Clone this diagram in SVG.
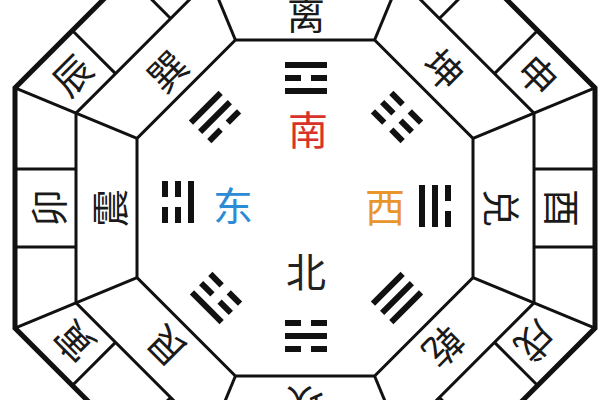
<svg xmlns="http://www.w3.org/2000/svg" xmlns:xlink="http://www.w3.org/1999/xlink" width="600" height="400" viewBox="0 0 600 400">
<style>
.ln{fill:none;stroke:#111;stroke-width:3;stroke-linejoin:miter}
.outer{fill:none;stroke:#111;stroke-width:5;stroke-linejoin:miter}
.ch{font-family:"Noto Sans CJK SC","Noto Sans CJK JP",sans-serif;font-size:38px;fill:#1a1a1a;text-anchor:middle;dominant-baseline:central}
.dir{font-family:"Noto Sans CJK SC","Noto Sans CJK JP",sans-serif;font-size:40px;text-anchor:middle;dominant-baseline:central}
.bar{fill:#111}
</style>
<defs>
<rect id="yang" class="bar" x="-21" y="-3" width="42" height="6"/>
<g id="yin" class="bar"><rect x="-21" y="-3" width="16" height="6"/><rect x="5" y="-3" width="16" height="6"/></g>
</defs>
<rect width="600" height="400" fill="#fff"/>
<g id="rings">
<polygon class="outer" points="184.88,-82 425.12,-82 595,87.88 595,328.12 425.12,498 184.88,498 15,328.12 15,87.88"/>
<polygon class="ln" points="210.15,-21 399.85,-21 534,113.15 534,302.85 399.85,437 210.15,437 76,302.85 76,113.15"/>
<polygon class="ln" points="235.42,40 374.58,40 473,138.42 473,277.58 374.58,376 235.42,376 137,277.58 137,138.42"/>
</g>
<g id="connectors">
<line class="ln" x1="235.42" y1="40" x2="184.88" y2="-82"/>
<line class="ln" x1="374.58" y1="40" x2="425.12" y2="-82"/>
<line class="ln" x1="473" y1="138.42" x2="595" y2="87.88"/>
<line class="ln" x1="473" y1="277.58" x2="595" y2="328.12"/>
<line class="ln" x1="374.58" y1="376" x2="425.12" y2="498"/>
<line class="ln" x1="235.42" y1="376" x2="184.88" y2="498"/>
<line class="ln" x1="137" y1="277.58" x2="15" y2="328.12"/>
<line class="ln" x1="137" y1="138.42" x2="15" y2="87.88"/>
<line class="ln" x1="534" y1="169" x2="595" y2="169"/>
<line class="ln" x1="534" y1="247" x2="595" y2="247"/>
<line class="ln" x1="15" y1="169" x2="76" y2="169"/>
<line class="ln" x1="15" y1="247" x2="76" y2="247"/>
<line class="ln" x1="266" y1="-21" x2="266" y2="-82"/>
<line class="ln" x1="344" y1="-21" x2="344" y2="-82"/>
<line class="ln" x1="266" y1="437" x2="266" y2="498"/>
<line class="ln" x1="344" y1="437" x2="344" y2="498"/>
<line class="ln" x1="170.65" y1="18.49" x2="127.52" y2="-24.64"/>
<line class="ln" x1="115.49" y1="73.65" x2="72.36" y2="30.52"/>
<line class="ln" x1="494.51" y1="73.65" x2="537.64" y2="30.52"/>
<line class="ln" x1="439.35" y1="18.49" x2="482.48" y2="-24.64"/>
<line class="ln" x1="439.35" y1="397.51" x2="482.48" y2="440.64"/>
<line class="ln" x1="494.51" y1="342.35" x2="537.64" y2="385.48"/>
<line class="ln" x1="115.49" y1="342.35" x2="72.36" y2="385.48"/>
<line class="ln" x1="170.65" y1="397.51" x2="127.52" y2="440.64"/>
</g>
<g id="trigram-li" transform="translate(306,78)"><use xlink:href="#yang" y="-13"/><use xlink:href="#yin" y="0"/><use xlink:href="#yang" y="13"/></g>
<g id="trigram-kun" transform="translate(397,117) rotate(45)"><use xlink:href="#yin" y="-13"/><use xlink:href="#yin" y="0"/><use xlink:href="#yin" y="13"/></g>
<g id="trigram-dui" transform="translate(435,206) rotate(90)"><use xlink:href="#yin" y="-13"/><use xlink:href="#yang" y="0"/><use xlink:href="#yang" y="13"/></g>
<g id="trigram-qian" transform="translate(397,298) rotate(135)"><use xlink:href="#yang" y="-13"/><use xlink:href="#yang" y="0"/><use xlink:href="#yang" y="13"/></g>
<g id="trigram-kan" transform="translate(306,336) rotate(180)"><use xlink:href="#yin" y="-13"/><use xlink:href="#yang" y="0"/><use xlink:href="#yin" y="13"/></g>
<g id="trigram-gen" transform="translate(216,298) rotate(-135)"><use xlink:href="#yang" y="-13"/><use xlink:href="#yin" y="0"/><use xlink:href="#yin" y="13"/></g>
<g id="trigram-zhen" transform="translate(178,202) rotate(-90)"><use xlink:href="#yin" y="-13"/><use xlink:href="#yin" y="0"/><use xlink:href="#yang" y="13"/></g>
<g id="trigram-xun" transform="translate(215,117) rotate(-45)"><use xlink:href="#yang" y="-13"/><use xlink:href="#yang" y="0"/><use xlink:href="#yin" y="13"/></g>
<g id="trigram-names">
<text class="ch" transform="translate(306,12)">离</text>
<text class="ch" transform="translate(445,68) rotate(45)">坤</text>
<text class="ch" transform="translate(503,208) rotate(90)">兑</text>
<text class="ch" transform="translate(445,348) rotate(135)">乾</text>
<text class="ch" transform="translate(305,406) rotate(180)">坎</text>
<text class="ch" transform="translate(165,348) rotate(-135)">艮</text>
<text class="ch" transform="translate(107,208) rotate(-90)">震</text>
<text class="ch" transform="translate(166,70) rotate(-45)">巽</text>
</g>
<g id="branches">
<text class="ch" transform="translate(46,208) rotate(-90)">卯</text>
<text class="ch" transform="translate(564,208) rotate(90)">酉</text>
<text class="ch" transform="translate(71,74) rotate(-45)">辰</text>
<text class="ch" transform="translate(539,74) rotate(45)">申</text>
<text class="ch" transform="translate(537,343) rotate(135)">戌</text>
<text class="ch" transform="translate(73,343) rotate(-135)">寅</text>
</g>
<g id="directions">
<text class="dir" x="308" y="128" fill="#d8322b">南</text>
<text class="dir" x="233" y="204" fill="#2d8bd6">东</text>
<text class="dir" x="385" y="205" fill="#e8952b">西</text>
<text class="dir" x="306" y="270" fill="#222">北</text>
</g>
</svg>
